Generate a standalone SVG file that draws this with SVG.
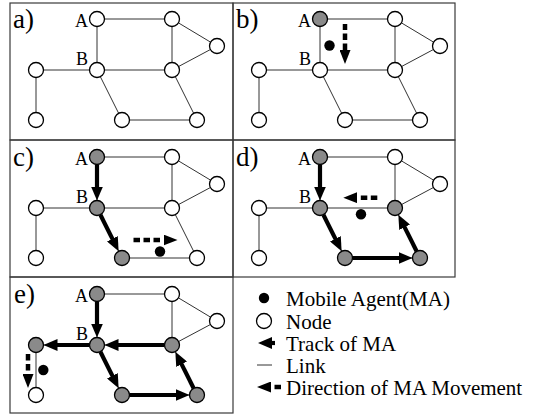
<svg xmlns="http://www.w3.org/2000/svg" width="559" height="415" viewBox="0 0 559 415" font-family="'Liberation Serif', 'Times New Roman', 'DejaVu Serif', serif">
<style>
.frame{fill:none;stroke:#3a3a3a;stroke-width:1.2}
.link{stroke:#333;stroke-width:1;fill:none}
.node{fill:#fff;stroke:#000;stroke-width:1.3}
.visited{fill:#8a8a8a}
.track{stroke:#000;stroke-width:4.2;fill:none;marker-end:url(#trackHead)}
.dir{stroke:#000;stroke-width:4.5;fill:none;stroke-dasharray:6.5 3.5;marker-start:url(#dirHead)}
.gap{stroke-dashoffset:6.5}
.ma{fill:#000}
text{font-family:'Liberation Serif','Times New Roman','DejaVu Serif',serif}
.tag{font-size:27px}
.lbl{font-size:18px;text-anchor:end}
.legend{font-size:21px}
</style>
<defs>
<marker id="trackHead" markerUnits="userSpaceOnUse" viewBox="0 0 14 12" markerWidth="14" markerHeight="12" refX="4" refY="6" orient="auto"><path d="M0,0 L14,6 L0,12 z" fill="#000"/></marker>
<marker id="dirHead" markerUnits="userSpaceOnUse" viewBox="0 0 14 11" markerWidth="14" markerHeight="11" refX="0" refY="5.5" orient="auto-start-reverse"><path d="M0,0 L14,5.5 L0,11 z" fill="#000"/></marker>
<!-- the network links, shared by every panel -->
<g id="links">
<line class="link" x1="97" y1="19" x2="172" y2="19"/>
<line class="link" x1="97" y1="19" x2="97" y2="70"/>
<line class="link" x1="172" y1="19" x2="217" y2="46"/>
<line class="link" x1="172" y1="19" x2="172" y2="70"/>
<line class="link" x1="217" y1="46" x2="172" y2="70"/>
<line class="link" x1="36" y1="70" x2="97" y2="70"/>
<line class="link" x1="97" y1="70" x2="172" y2="70"/>
<line class="link" x1="36" y1="70" x2="36" y2="120"/>
<line class="link" x1="97" y1="70" x2="122" y2="120"/>
<line class="link" x1="122" y1="120" x2="197" y2="120"/>
<line class="link" x1="172" y1="70" x2="197" y2="120"/>
</g>
</defs>

<!-- panel frames -->
<g id="frames">
<rect class="frame" x="10" y="3" width="223" height="137"/>
<rect class="frame" x="233" y="3" width="222" height="137"/>
<rect class="frame" x="10" y="140" width="223" height="137"/>
<rect class="frame" x="233" y="140" width="222" height="137"/>
<rect class="frame" x="10" y="277" width="223" height="136"/>
</g>

<!-- a) initial network -->
<g id="panel-a">
<text class="tag" x="13" y="28">a)</text>
<g id="a-connectors"><use href="#links"/></g>
<g id="a-A"><circle class="node" cx="97" cy="19" r="7.5"/><text class="lbl" x="88" y="27">A</text></g>
<g id="a-TR"><circle class="node" cx="172" cy="19" r="7.5"/></g>
<g id="a-FR"><circle class="node" cx="217" cy="46" r="7.5"/></g>
<g id="a-B"><circle class="node" cx="97" cy="70" r="7.5"/><text class="lbl" x="88" y="65">B</text></g>
<g id="a-MR"><circle class="node" cx="172" cy="70" r="7.5"/></g>
<g id="a-L"><circle class="node" cx="36" cy="70" r="7.5"/></g>
<g id="a-BL"><circle class="node" cx="36" cy="120" r="7.5"/></g>
<g id="a-BM"><circle class="node" cx="122" cy="120" r="7.5"/></g>
<g id="a-BR"><circle class="node" cx="197" cy="120" r="7.5"/></g>
</g>

<!-- b) agent starts at A -->
<g id="panel-b" transform="translate(223,0)">
<text class="tag" x="13" y="28">b)</text>
<g id="b-connectors">
<use href="#links"/>
<line class="dir" x1="122" y1="50" x2="122" y2="24"/>
</g>
<circle class="ma" cx="106.5" cy="45.5" r="5.2"/>
<g id="b-A"><circle class="node visited" cx="97" cy="19" r="7.5"/><text class="lbl" x="88" y="27">A</text></g>
<g id="b-TR"><circle class="node" cx="172" cy="19" r="7.5"/></g>
<g id="b-FR"><circle class="node" cx="217" cy="46" r="7.5"/></g>
<g id="b-B"><circle class="node" cx="97" cy="70" r="7.5"/><text class="lbl" x="88" y="65">B</text></g>
<g id="b-MR"><circle class="node" cx="172" cy="70" r="7.5"/></g>
<g id="b-L"><circle class="node" cx="36" cy="70" r="7.5"/></g>
<g id="b-BL"><circle class="node" cx="36" cy="120" r="7.5"/></g>
<g id="b-BM"><circle class="node" cx="122" cy="120" r="7.5"/></g>
<g id="b-BR"><circle class="node" cx="197" cy="120" r="7.5"/></g>
</g>

<!-- c) -->
<g id="panel-c" transform="translate(0,138)">
<text class="tag" x="13" y="28">c)</text>
<g id="c-connectors">
<use href="#links"/>
<line class="track" x1="97" y1="26.5" x2="97" y2="52.5"/>
<line class="track" x1="100.35" y1="76.7" x2="114.18" y2="104.35"/>
<line class="dir gap" x1="163.5" y1="102" x2="133" y2="102"/>
</g>
<circle class="ma" cx="160" cy="113.5" r="5.2"/>
<g id="c-A"><circle class="node visited" cx="97" cy="19" r="7.5"/><text class="lbl" x="88" y="27">A</text></g>
<g id="c-TR"><circle class="node" cx="172" cy="19" r="7.5"/></g>
<g id="c-FR"><circle class="node" cx="217" cy="46" r="7.5"/></g>
<g id="c-B"><circle class="node visited" cx="97" cy="70" r="7.5"/><text class="lbl" x="88" y="65">B</text></g>
<g id="c-MR"><circle class="node" cx="172" cy="70" r="7.5"/></g>
<g id="c-L"><circle class="node" cx="36" cy="70" r="7.5"/></g>
<g id="c-BL"><circle class="node" cx="36" cy="120" r="7.5"/></g>
<g id="c-BM"><circle class="node visited" cx="122" cy="120" r="7.5"/></g>
<g id="c-BR"><circle class="node" cx="197" cy="120" r="7.5"/></g>
</g>

<!-- d) -->
<g id="panel-d" transform="translate(223,138)">
<text class="tag" x="13" y="28">d)</text>
<g id="d-connectors">
<use href="#links"/>
<line class="track" x1="97" y1="26.5" x2="97" y2="52.5"/>
<line class="track" x1="100.35" y1="76.7" x2="114.18" y2="104.35"/>
<line class="track" x1="129.5" y1="120" x2="179.5" y2="120"/>
<line class="track" x1="193.65" y1="113.3" x2="179.82" y2="85.65"/>
<line class="dir gap" x1="134.3" y1="59.7" x2="156" y2="59.7"/>
</g>
<circle class="ma" cx="138" cy="76.3" r="5.2"/>
<g id="d-A"><circle class="node visited" cx="97" cy="19" r="7.5"/><text class="lbl" x="88" y="27">A</text></g>
<g id="d-TR"><circle class="node" cx="172" cy="19" r="7.5"/></g>
<g id="d-FR"><circle class="node" cx="217" cy="46" r="7.5"/></g>
<g id="d-B"><circle class="node visited" cx="97" cy="70" r="7.5"/><text class="lbl" x="88" y="65">B</text></g>
<g id="d-MR"><circle class="node visited" cx="172" cy="70" r="7.5"/></g>
<g id="d-L"><circle class="node" cx="36" cy="70" r="7.5"/></g>
<g id="d-BL"><circle class="node" cx="36" cy="120" r="7.5"/></g>
<g id="d-BM"><circle class="node visited" cx="122" cy="120" r="7.5"/></g>
<g id="d-BR"><circle class="node visited" cx="197" cy="120" r="7.5"/></g>
</g>

<!-- e) -->
<g id="panel-e" transform="translate(0,275)">
<text class="tag" x="14" y="28">e)</text>
<g id="e-connectors">
<use href="#links"/>
<line class="track" x1="97" y1="26.5" x2="97" y2="52.5"/>
<line class="track" x1="100.35" y1="76.7" x2="114.18" y2="104.35"/>
<line class="track" x1="129.5" y1="120" x2="179.5" y2="120"/>
<line class="track" x1="193.65" y1="113.3" x2="179.82" y2="85.65"/>
<line class="track" x1="164.5" y1="70" x2="114.5" y2="70"/>
<line class="track" x1="89.5" y1="70" x2="53.5" y2="70"/>
<line class="dir gap" x1="28" y1="99" x2="28" y2="78"/>
</g>
<circle class="ma" cx="43.3" cy="95" r="5.2"/>
<g id="e-A"><circle class="node visited" cx="97" cy="19" r="7.5"/><text class="lbl" x="88" y="27">A</text></g>
<g id="e-TR"><circle class="node" cx="172" cy="19" r="7.5"/></g>
<g id="e-FR"><circle class="node" cx="217" cy="46" r="7.5"/></g>
<g id="e-B"><circle class="node visited" cx="97" cy="70" r="7.5"/><text class="lbl" x="88" y="65">B</text></g>
<g id="e-MR"><circle class="node visited" cx="172" cy="70" r="7.5"/></g>
<g id="e-L"><circle class="node visited" cx="36" cy="70" r="7.5"/></g>
<g id="e-BL"><circle class="node" cx="36" cy="120" r="7.5"/></g>
<g id="e-BM"><circle class="node visited" cx="122" cy="120" r="7.5"/></g>
<g id="e-BR"><circle class="node visited" cx="197" cy="120" r="7.5"/></g>
</g>

<!-- legend -->
<g id="legend">
<circle class="ma" cx="264" cy="298" r="5.2"/>
<text class="legend" x="286" y="306">Mobile Agent(MA)</text>
<circle class="node" cx="264" cy="321" r="7.5"/>
<text class="legend" x="286" y="328.5">Node</text>
<line class="track" x1="275" y1="343" x2="268" y2="343"/>
<text class="legend" x="286" y="351">Track of MA</text>
<line class="link" x1="257" y1="365" x2="272" y2="365"/>
<text class="legend" x="286" y="373">Link</text>
<line class="dir gap" x1="271" y1="387" x2="282" y2="387"/>
<text class="legend" x="286" y="395">Direction of MA Movement</text>
</g>
</svg>
